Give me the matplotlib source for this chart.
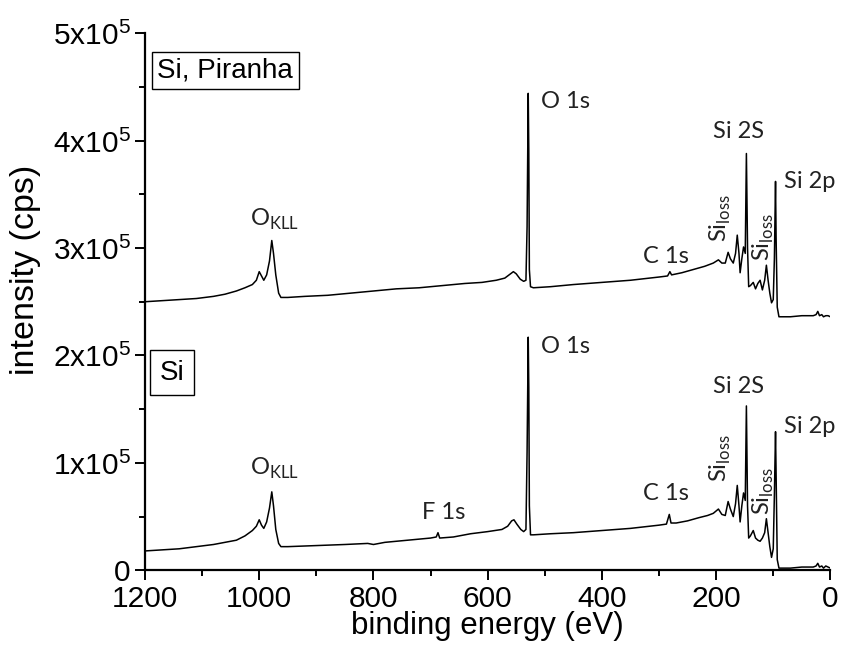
import matplotlib.pyplot as plt
import numpy as np

plt.rcParams['font.family'] = ['Liberation Sans', 'DejaVu Sans']
plt.rcParams['mathtext.fontset'] = 'custom'
plt.rcParams['mathtext.rm'] = 'Liberation Sans'
plt.rcParams['mathtext.sf'] = 'Lato'

# binding energy (eV) and intensity (1e5 cps) for the two survey spectra
piranha_be = [1200, 1170, 1140, 1110, 1080, 1060, 1040, 1025, 1012, 1005, 1000, 996, 992, 987, 982, 978, 975,
              971, 966, 962, 950, 920, 880, 840, 800, 760, 720, 680, 640, 610, 585, 570, 560, 555, 550, 543,
              537, 533, 531, 529, 528, 527, 525, 520, 490, 450, 400, 350, 300, 285, 281, 278, 260, 240, 220,
              205, 196, 190, 184, 179, 175, 170, 166, 163, 160, 158, 155, 152, 149, 147, 145, 143, 140, 135,
              131, 127, 123, 119, 115, 112, 109, 106, 103, 100, 98, 96, 95, 93, 90, 70, 50, 30, 25, 22, 19,
              15, 12, 8, 4, 0]
piranha_int = [2.50, 2.51, 2.52, 2.53, 2.55, 2.57, 2.60, 2.63, 2.66, 2.70, 2.78, 2.74, 2.70, 2.75, 2.88, 3.07,
               2.95, 2.75, 2.58, 2.54, 2.54, 2.55, 2.56, 2.58, 2.60, 2.62, 2.63, 2.65, 2.67, 2.68, 2.70, 2.72,
               2.76, 2.78, 2.76, 2.71, 2.69, 2.70, 3.20, 4.44, 3.90, 2.80, 2.64, 2.63, 2.64, 2.66, 2.68, 2.70,
               2.73, 2.74, 2.78, 2.75, 2.77, 2.80, 2.83, 2.86, 2.89, 2.86, 2.86, 2.96, 2.90, 2.86, 2.95, 3.12,
               2.95, 2.77, 2.90, 3.01, 2.95, 3.88, 3.00, 2.64, 2.65, 2.68, 2.62, 2.67, 2.70, 2.61, 2.70, 2.84,
               2.70, 2.58, 2.49, 2.52, 2.90, 3.62, 3.10, 2.45, 2.36, 2.36, 2.37, 2.37, 2.38, 2.41, 2.37, 2.38,
               2.36, 2.37, 2.37, 2.36]

si_be = [1200, 1170, 1140, 1110, 1080, 1060, 1040, 1025, 1012, 1005, 1000, 996, 992, 987, 982, 978, 975, 971,
         966, 962, 950, 900, 850, 810, 800, 780, 740, 700, 690, 687, 684, 660, 630, 600, 575, 565, 558, 554,
         549, 542, 537, 533, 531, 529, 528, 527, 525, 520, 490, 450, 400, 350, 300, 287, 282, 279, 270, 250,
         230, 215, 205, 196, 190, 184, 179, 175, 170, 166, 163, 160, 158, 155, 152, 149, 147, 145, 143, 140,
         135, 131, 127, 123, 119, 115, 112, 109, 106, 103, 100, 98, 96, 95, 93, 90, 70, 50, 30, 25, 22, 19,
         15, 12, 8, 4, 0]
si_int = [0.18, 0.19, 0.20, 0.22, 0.24, 0.26, 0.28, 0.32, 0.37, 0.41, 0.47, 0.42, 0.39, 0.45, 0.58, 0.73, 0.60,
          0.38, 0.25, 0.22, 0.22, 0.23, 0.24, 0.25, 0.24, 0.26, 0.28, 0.30, 0.31, 0.35, 0.30, 0.31, 0.34, 0.36,
          0.38, 0.41, 0.46, 0.47, 0.43, 0.38, 0.36, 0.38, 1.10, 2.17, 1.70, 0.60, 0.33, 0.33, 0.34, 0.35, 0.37,
          0.39, 0.42, 0.43, 0.52, 0.44, 0.44, 0.46, 0.49, 0.51, 0.53, 0.57, 0.52, 0.51, 0.64, 0.57, 0.50, 0.62,
          0.79, 0.60, 0.45, 0.60, 0.72, 0.65, 1.53, 0.60, 0.30, 0.32, 0.37, 0.30, 0.28, 0.27, 0.30, 0.35, 0.48,
          0.35, 0.22, 0.12, 0.20, 0.70, 1.29, 0.90, 0.10, 0.02, 0.02, 0.03, 0.03, 0.04, 0.065, 0.03, 0.04, 0.02,
          0.04, 0.03, 0.02]

yticks = [0, 1, 2, 3, 4, 5]
ytick_labels = ['0'] + ['%dx10$^{5}$' % v for v in yticks[1:]]
xticks = [1200, 1000, 800, 600, 400, 200, 0]

fig = plt.figure(figsize=(8.43, 6.51), dpi=100)
ax = fig.add_axes([0.172, 0.124, 0.813, 0.825])

ax.plot(piranha_be, np.array(piranha_int) * 1e5, color='black', lw=1.1)
ax.plot(si_be, np.array(si_int) * 1e5, color='black', lw=1.1)

ax.set_xlim(1200, 0)
ax.set_ylim(0, 5e5)
ax.set_xticks(xticks)
ax.set_xticks(np.arange(1100, 0, -200), minor=True)
ax.set_yticks(np.array(yticks) * 1e5)
ax.set_yticklabels(ytick_labels)
ax.set_yticks(np.arange(0.5, 5, 1) * 1e5, minor=True)
ax.tick_params(which='major', direction='out', length=7, width=1.4, labelsize=21.5)
ax.tick_params(which='minor', direction='out', length=4, width=1.4)
for s in ['top', 'right']:
    ax.spines[s].set_visible(False)
for s in ['left', 'bottom']:
    ax.spines[s].set_linewidth(1.6)

ax.set_xlabel('binding energy (eV)', fontsize=22.5, labelpad=-1)
ax.set_ylabel('intensity (cps)', fontsize=24.5)
ax.yaxis.set_label_coords(-0.152, 0.559)

# sample name boxes
box = dict(boxstyle='square,pad=0.2', facecolor='white', edgecolor='black', lw=1)
ax.text(0.018, 0.931, 'Si, Piranha', transform=ax.transAxes, fontsize=20, va='center', bbox=box)
box_si = dict(boxstyle='square,pad=0.35', facecolor='white', edgecolor='black', lw=1)
ax.text(0.021, 0.368, 'Si', transform=ax.transAxes, fontsize=20, va='center', bbox=box_si)

# peak labels
pk = dict(family='Lato', fontsize=17, color='#222222')
for off in [0, -2.28e5]:
    ax.text(506, 4.30e5 + off, 'O 1s', va='baseline', **pk)
    ax.text(205, 4.02e5 + off * 1.04, 'Si 2S', va='baseline', **pk)
    ax.text(82, 3.56e5 + off, 'Si 2p', va='baseline', **pk)
    ax.text(1016, 3.21e5 + off * 1.02, r'O$_\mathsf{KLL}$', va='baseline', **pk)
ax.text(328, 2.86e5, 'C 1s', va='baseline', **pk)
ax.text(328, 0.65e5, 'C 1s', va='baseline', **pk)
ax.text(715, 0.48e5, 'F 1s', va='baseline', **pk)
for x, y in [(193, 3.28e5), (118, 3.10e5), (193, 1.04e5), (118, 0.74e5)]:
    ax.text(x, y, r'Si$_\mathsf{loss}$', rotation=90, ha='center', va='center', **pk)

fig.savefig('out.png', dpi=100)
